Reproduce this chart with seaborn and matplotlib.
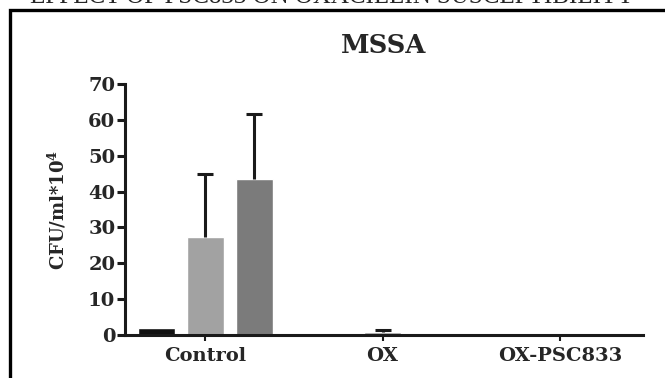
import numpy as np
import pandas as pd
import matplotlib
matplotlib.use("Agg")
import matplotlib.pyplot as plt
import seaborn as sns
from matplotlib.patches import Rectangle

# Treatments on the x axis and the three bar groups within each treatment
treatments = ["Control", "OX", "OX-PSC833"]
groups = ["Group 1", "Group 2", "Group 3"]

# Mean CFU/ml (x10^4) per treatment for each group
group1_mean = [2.0, 0.0, 0.0]
group2_mean = [27.3, 0.9, 0.0]
group3_mean = [43.5, 0.0, 0.0]

# Upper error (SD) per treatment for each group
group1_err = [0.0, 0.0, 0.0]
group2_err = [17.5, 0.4, 0.0]
group3_err = [18.0, 0.0, 0.0]

y_ticks = [0, 10, 20, 30, 40, 50, 60, 70]
bar_colors = ["#111111", "#a2a2a2", "#7b7b7b"]

sns.set_style("ticks")
plt.rcParams["font.family"] = ["DejaVu Serif"]
plt.rcParams["font.weight"] = "bold"
plt.rcParams["mathtext.fontset"] = "dejavuserif"

means = [group1_mean, group2_mean, group3_mean]
errs = [group1_err, group2_err, group3_err]
df = pd.DataFrame({
    "treatment": [t for _ in groups for t in treatments],
    "group": [g for g in groups for _ in treatments],
    "cfu": [v for m in means for v in m],
})

fig = plt.figure(figsize=(6.65, 3.78), dpi=100)
ax = fig.add_axes([0.188, 0.1138, 0.779, 0.664])

sns.barplot(data=df, x="treatment", y="cfu", hue="group", order=treatments,
            hue_order=groups, palette=bar_colors, saturation=1, width=0.83,
            gap=0.245, errorbar=None, legend=False, ax=ax)

# upper-only error bars (stem + top cap) placed on the drawn bars
cap_half = 0.045
for container, m, e in zip(ax.containers, means, errs):
    for bar, mv, ev in zip(container, m, e):
        if ev > 0:
            xc = bar.get_x() + bar.get_width() / 2
            ax.vlines(xc, mv, mv + ev, color="#1a1a1a", linewidth=2.2,
                      zorder=3)
            ax.hlines(mv + ev, xc - cap_half, xc + cap_half,
                      color="#1a1a1a", linewidth=2.2, zorder=3)

ax.set_xlim(-0.452, 2.469)
ax.set_ylim(0, 70)
ax.set_yticks(y_ticks)
ax.set_xlabel("")
ax.set_ylabel("CFU/ml*10$^\\mathbf{4}$", fontsize=13, fontweight="bold",
              labelpad=14)
ax.set_title("MSSA", fontsize=18.5, fontweight="bold", pad=22)

sns.despine(ax=ax)
for side in ["left", "bottom"]:
    ax.spines[side].set_linewidth(2.2)
    ax.spines[side].set_color("#1a1a1a")
ax.tick_params(axis="y", length=6, width=2.2, pad=1, labelsize=14,
               color="#1a1a1a")
ax.tick_params(axis="x", length=4, width=1.5, pad=5, labelsize=14,
               color="#1a1a1a")

# page frame and document heading above the chart
fig.patches.append(Rectangle((10 / 665, -0.1), 1.2, 1 - 10 / 378 + 0.1,
                             transform=fig.transFigure, fill=False,
                             edgecolor="black", linewidth=2.4))
fig.text(0.5, 1 - 3.0 / 378, "EFFECT OF PSC833 ON OXACILLIN SUSCEPTIBILITY",
         ha="center", va="baseline", fontsize=18, fontweight="normal",
         family=["Liberation Serif"])

fig.savefig("out.png", dpi=100)
